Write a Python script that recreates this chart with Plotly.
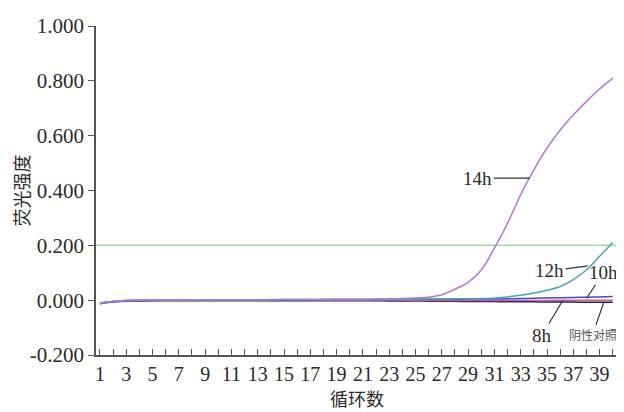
import plotly.graph_objects as go

cycles = list(range(1, 41))

h14 = [-0.010, -0.004, 0.000, 0.001, 0.001, 0.000, 0.000, 0.001, 0.001, 0.001,
       0.001, 0.001, 0.001, 0.002, 0.002, 0.002, 0.002, 0.002, 0.003, 0.003,
       0.003, 0.004, 0.005, 0.006, 0.008, 0.011, 0.020, 0.040, 0.065, 0.110,
       0.190, 0.280, 0.385, 0.475, 0.555, 0.620, 0.675, 0.725, 0.770, 0.810]
h12 = [-0.012, -0.005, -0.001, 0.000, 0.000, 0.000, 0.001, 0.001, 0.001, 0.001,
       0.001, 0.001, 0.001, 0.001, 0.002, 0.002, 0.002, 0.002, 0.002, 0.002,
       0.002, 0.003, 0.003, 0.003, 0.004, 0.004, 0.004, 0.005, 0.005, 0.006,
       0.008, 0.012, 0.018, 0.026, 0.036, 0.050, 0.075, 0.110, 0.160, 0.210]
h10 = [-0.011, -0.005, -0.002, -0.001, 0.000, 0.000, 0.000, 0.000, 0.001, 0.001,
       0.001, 0.001, 0.001, 0.001, 0.001, 0.001, 0.001, 0.002, 0.002, 0.002,
       0.002, 0.002, 0.002, 0.003, 0.003, 0.003, 0.003, 0.003, 0.004, 0.004,
       0.004, 0.005, 0.006, 0.007, 0.008, 0.009, 0.010, 0.011, 0.012, 0.013]
h8 = [-0.012, -0.006, -0.003, -0.002, -0.001, -0.001, -0.001, 0.000, 0.000, 0.000,
      0.000, 0.000, 0.000, 0.000, 0.000, 0.000, 0.000, 0.000, 0.000, 0.000,
      0.000, 0.000, 0.000, 0.000, -0.001, -0.001, -0.001, -0.001, -0.001, -0.001,
      -0.001, -0.001, -0.001, -0.001, -0.001, 0.000, 0.000, 0.000, 0.000, 0.000]
neg = [-0.013, -0.007, -0.004, -0.003, -0.002, -0.002, -0.002, -0.002, -0.002, -0.002,
       -0.002, -0.002, -0.002, -0.002, -0.002, -0.002, -0.002, -0.002, -0.002, -0.002,
       -0.002, -0.002, -0.003, -0.003, -0.003, -0.004, -0.004, -0.004, -0.005, -0.005,
       -0.005, -0.006, -0.006, -0.006, -0.007, -0.007, -0.007, -0.008, -0.008, -0.008]

threshold = 0.2

series = [
    ("阴性对照", neg, "#1c1c55"),
    ("8h", h8, "#c8609a"),
    ("10h", h10, "#4848c0"),
    ("12h", h12, "#4aa6a6"),
    ("14h", h14, "#b07cc8"),
]

y_ticks = [-0.2, 0.0, 0.2, 0.4, 0.6, 0.8, 1.0]
x_ticks = list(range(1, 40, 2))

fig = go.Figure()
for name, vals, col in series:
    fig.add_trace(go.Scatter(x=cycles, y=vals, mode="lines", name=name,
                             line=dict(color=col, width=1.5, shape="spline")))

fig.add_hline(y=threshold, line=dict(color="#a8d8a8", width=1.5), layer="below")

serif = "Liberation Serif, Times New Roman, serif"
cjk = "Noto Sans CJK SC, sans-serif"
dark = "#2a2a2a"

ann = [
    dict(x=33.7, y=h14[32] + 0.06, text="14h", ax=-52, ay=0),
    dict(x=38.1, y=0.125, text="12h", ax=-38, ay=5),
    dict(x=38.0, y=0.006, text="10h", ax=17, ay=-26),
    dict(x=36.2, y=-0.001, text="8h", ax=-21, ay=35),
]
for a in ann:
    fig.add_annotation(x=a["x"], y=a["y"], text=a["text"], ax=a["ax"], ay=a["ay"],
                       showarrow=True, arrowhead=0, arrowwidth=1.2, arrowcolor="#333",
                       font=dict(family=serif, size=19, color=dark))
fig.add_annotation(x=39.3, y=-0.010, text="阴性对照", ax=-11, ay=32,
                   showarrow=True, arrowhead=0, arrowwidth=1.2, arrowcolor="#333",
                   font=dict(family=cjk, size=12, color="#555"))

fig.update_layout(
    width=616, height=404,
    margin=dict(l=86, r=6, t=12, b=57),
    paper_bgcolor="white", plot_bgcolor="white",
    showlegend=False,
    font=dict(family=serif, size=19, color=dark),
    xaxis=dict(range=[0.7, 40.4], tickmode="array", tickvals=x_ticks,
               ticktext=[str(v) for v in x_ticks],
               ticks="inside", ticklen=6, tickcolor="#555",
               minor=dict(dtick=1, tick0=0, ticks="inside", ticklen=6, tickcolor="#555"),
               showline=True, linecolor="#555", linewidth=1.5,
               showgrid=False, zeroline=False,
               tickfont=dict(family=serif, size=20, color=dark),
               title=dict(text="循环数", font=dict(family=cjk, size=18, color=dark), standoff=3)),
    yaxis=dict(range=[-0.2, 1.0], tickmode="array", tickvals=y_ticks,
               ticktext=[f"{v:.3f}" for v in y_ticks],
               ticks="outside", ticklen=6, tickcolor="#555",
               showline=True, linecolor="#555", linewidth=1.5,
               showgrid=False, zeroline=False,
               tickfont=dict(family=serif, size=21, color=dark),
               title=dict(text="荧光强度", font=dict(family=cjk, size=18, color=dark), standoff=3)),
)

fig.write_html("out.html")
